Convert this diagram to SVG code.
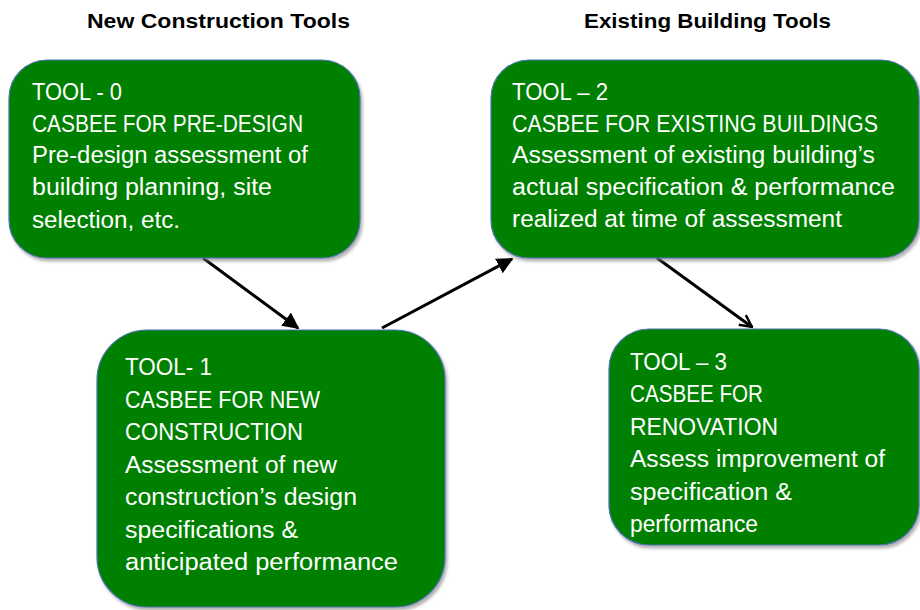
<svg xmlns="http://www.w3.org/2000/svg" width="920" height="610" viewBox="0 0 920 610">
<defs>
<style>
.box{fill:#008000;stroke:#4a74b4;stroke-width:1.2;filter:url(#sh)}
.t{font-family:"Liberation Sans",Arial,sans-serif;font-size:23px;fill:#ffffff}
.h{font-family:"Liberation Sans",Arial,sans-serif;font-size:21px;font-weight:bold;fill:#000000}
.c{stroke:#000;stroke-width:3;fill:none}
</style>
<filter id="sh" x="-10%" y="-10%" width="120%" height="120%">
<feDropShadow dx="2" dy="3" stdDeviation="1.5" flood-color="#808080" flood-opacity="0.6"/>
</filter>
<marker id="af" viewBox="0 0 10 10" refX="9" refY="5" markerWidth="5.5" markerHeight="5.5" orient="auto" markerUnits="strokeWidth">
<path d="M0,0 L10,5 L0,10 z" fill="#000"/>
</marker>
<marker id="ao" viewBox="0 0 10 10" refX="9" refY="5" markerWidth="5" markerHeight="5" orient="auto" markerUnits="strokeWidth">
<path d="M1,1 L9,5 L1,9" fill="none" stroke="#000" stroke-width="1.6"/>
</marker>
</defs>
<rect width="920" height="610" fill="#ffffff"/>
<g id="titles">
<text class="h" x="87" y="28" textLength="263" lengthAdjust="spacingAndGlyphs">New Construction Tools</text>
<text class="h" x="584" y="28" textLength="247" lengthAdjust="spacingAndGlyphs">Existing Building Tools</text>
</g>
<g id="connectors">
<line class="c" x1="203" y1="258" x2="298" y2="328" marker-end="url(#af)"/>
<line class="c" x1="382" y1="328" x2="512" y2="259" marker-end="url(#af)"/>
<line class="c" x1="657" y1="258" x2="752" y2="327" marker-end="url(#ao)"/>
</g>
<g id="tool0">
<rect class="box" x="9" y="60" width="351" height="198" rx="38"/>
<text class="t" x="32" y="100" textLength="90" lengthAdjust="spacingAndGlyphs">TOOL - 0</text>
<text class="t" x="32" y="132" textLength="271" lengthAdjust="spacingAndGlyphs">CASBEE FOR PRE-DESIGN</text>
<text class="t" x="32" y="163" textLength="276" lengthAdjust="spacingAndGlyphs">Pre-design assessment of</text>
<text class="t" x="32" y="195" textLength="240" lengthAdjust="spacingAndGlyphs">building planning, site</text>
<text class="t" x="32" y="228" textLength="148" lengthAdjust="spacingAndGlyphs">selection, etc.</text>
</g>
<g id="tool2">
<rect class="box" x="491" y="60" width="428" height="198" rx="38"/>
<text class="t" x="512" y="100" textLength="96" lengthAdjust="spacingAndGlyphs">TOOL – 2</text>
<text class="t" x="512" y="132" textLength="366" lengthAdjust="spacingAndGlyphs">CASBEE FOR EXISTING BUILDINGS</text>
<text class="t" x="512" y="163" textLength="363" lengthAdjust="spacingAndGlyphs">Assessment of existing building’s</text>
<text class="t" x="512" y="195" textLength="383" lengthAdjust="spacingAndGlyphs">actual specification &amp; performance</text>
<text class="t" x="512" y="227" textLength="330" lengthAdjust="spacingAndGlyphs">realized at time of assessment</text>
</g>
<g id="tool1">
<rect class="box" x="97" y="330" width="348" height="277" rx="50"/>
<text class="t" x="125" y="375" textLength="87" lengthAdjust="spacingAndGlyphs">TOOL- 1</text>
<text class="t" x="125" y="408" textLength="195" lengthAdjust="spacingAndGlyphs">CASBEE FOR NEW</text>
<text class="t" x="125" y="440" textLength="178" lengthAdjust="spacingAndGlyphs">CONSTRUCTION</text>
<text class="t" x="125" y="473" textLength="212" lengthAdjust="spacingAndGlyphs">Assessment of new</text>
<text class="t" x="125" y="505" textLength="232" lengthAdjust="spacingAndGlyphs">construction’s design</text>
<text class="t" x="125" y="538" textLength="173" lengthAdjust="spacingAndGlyphs">specifications &amp;</text>
<text class="t" x="125" y="570" textLength="273" lengthAdjust="spacingAndGlyphs">anticipated performance</text>
</g>
<g id="tool3">
<rect class="box" x="609" y="329" width="310" height="216" rx="40"/>
<text class="t" x="630" y="370" textLength="97" lengthAdjust="spacingAndGlyphs">TOOL – 3</text>
<text class="t" x="630" y="402" textLength="133" lengthAdjust="spacingAndGlyphs">CASBEE FOR</text>
<text class="t" x="630" y="435" textLength="148" lengthAdjust="spacingAndGlyphs">RENOVATION</text>
<text class="t" x="630" y="467" textLength="255" lengthAdjust="spacingAndGlyphs">Assess improvement of</text>
<text class="t" x="630" y="500" textLength="162" lengthAdjust="spacingAndGlyphs">specification &amp;</text>
<text class="t" x="630" y="532" textLength="128" lengthAdjust="spacingAndGlyphs">performance</text>
</g>
</svg>
